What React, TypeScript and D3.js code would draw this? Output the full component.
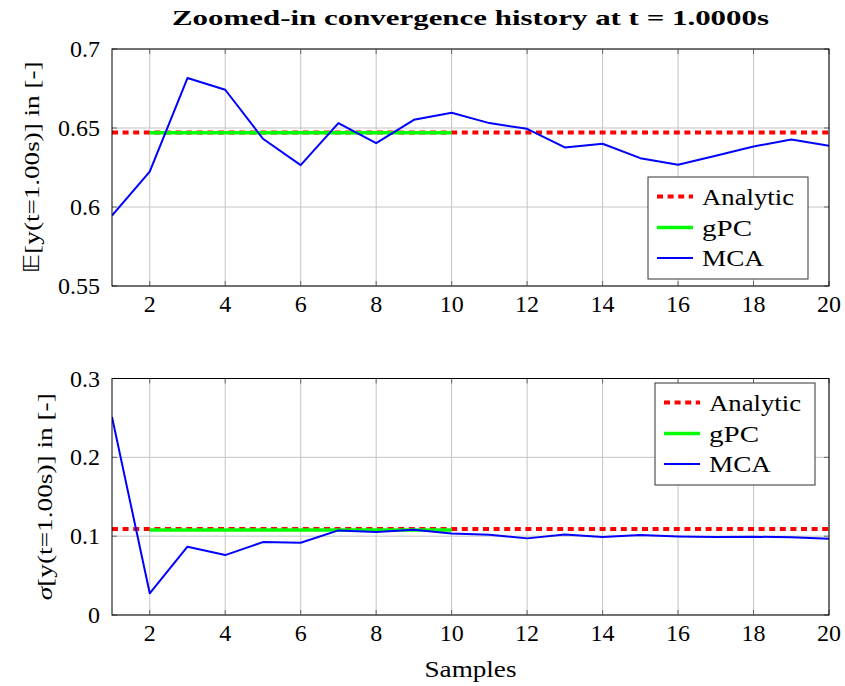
import React from "react";
import * as d3 from "d3";

const samples = [1, 2, 3, 4, 5, 6, 7, 8, 9, 10, 11, 12, 13, 14, 15, 16, 17, 18, 19, 20];
const mcaMean = [0.5946, 0.6224, 0.6816, 0.6742, 0.6432, 0.6265, 0.6531, 0.6404, 0.6552, 0.6596,
  0.6531, 0.6495, 0.6377, 0.64, 0.6309, 0.6267, 0.6324, 0.6383, 0.6427, 0.6387];
const mcaStd = [0.2513, 0.0275, 0.0866, 0.076, 0.0925, 0.0917, 0.1073, 0.1052, 0.1082, 0.1035,
  0.1018, 0.0972, 0.1022, 0.0989, 0.1014, 0.0997, 0.099, 0.0993, 0.0985, 0.0968];
const gpcSamples = [2, 3, 4, 5, 6, 7, 8, 9, 10];
const analyticMean = 0.6472;
const gpcMean = 0.647;
const analyticStd = 0.109;
const gpcStd = 0.1078;
const xTicks = [2, 4, 6, 8, 10, 12, 14, 16, 18, 20];
const meanTicks = [0.55, 0.6, 0.65, 0.7];
const stdTicks = [0, 0.1, 0.2, 0.3];
const legendLabels = ["Analytic", "gPC", "MCA"];

const W = 845, H = 686;
const L = 112, R = 829;
const FONT = "'Liberation Serif', 'Times New Roman', 'DejaVu Serif', serif";
const fs = (size: number): React.CSSProperties => ({ fontFamily: FONT, fontSize: size });

type PanelProps = {
  top: number; bottom: number; domain: [number, number]; ticks: number[]; fmt: (v: number) => string;
  mca: number[]; analytic: number; gpc: number; ylabel: React.ReactNode; ylabelX: number; ylabelLen: number;
  legend: { x: number; y: number; w: number; h: number };
  id: string;
};

function Panel(p: PanelProps) {
  const x = d3.scaleLinear().domain([1, 20]).range([L, R]);
  const y = d3.scaleLinear().domain(p.domain).range([p.bottom, p.top]);
  const line = d3.line<[number, number]>().x(d => x(d[0])).y(d => y(d[1]));
  const mcaPts: [number, number][] = samples.map((s, i) => [s, p.mca[i]]);
  const anPts: [number, number][] = [[1, p.analytic], [20, p.analytic]];
  const gpcPts: [number, number][] = gpcSamples.map(s => [s, p.gpc]);
  const lg = p.legend;
  const rows = [lg.y + 19.5, lg.y + 50.5, lg.y + 81];
  const styles = [
    { stroke: "#ff0000", w: 4, dash: "6,4.6" },
    { stroke: "#00ff00", w: 3.5, dash: "" },
    { stroke: "#0000ff", w: 2, dash: "" },
  ];
  const lens = [92, 50, 62];
  return (
    <g>
      <clipPath id={p.id}><rect x={L} y={p.top} width={R - L} height={p.bottom - p.top} /></clipPath>
      {xTicks.map(t => (
        <g key={"gx" + t}>
          <line x1={x(t)} x2={x(t)} y1={p.top} y2={p.bottom} stroke="#c4c4c4" strokeWidth={1} />
          <line x1={x(t)} x2={x(t)} y1={p.top} y2={p.top + 5} stroke="#666" strokeWidth={1} />
          <line x1={x(t)} x2={x(t)} y1={p.bottom} y2={p.bottom - 5} stroke="#666" strokeWidth={1} />
          <text x={x(t)} y={p.bottom + 26} textAnchor="middle" style={fs(24)}>{t}</text>
        </g>
      ))}
      {p.ticks.map(t => (
        <g key={"gy" + t}>
          <line x1={L} x2={R} y1={y(t)} y2={y(t)} stroke="#c4c4c4" strokeWidth={1} />
          <line x1={L} x2={L + 5} y1={y(t)} y2={y(t)} stroke="#666" strokeWidth={1} />
          <line x1={R} x2={R - 5} y1={y(t)} y2={y(t)} stroke="#666" strokeWidth={1} />
          <text x={100} y={y(t) + 8} textAnchor="end" style={fs(24)}>{p.fmt(t)}</text>
        </g>
      ))}
      <g clipPath={`url(#${p.id})`}>
        <path d={line(anPts) || ""} fill="none" stroke="#ff0000" strokeWidth={4} strokeDasharray="6,4.6" />
        <path d={line(gpcPts) || ""} fill="none" stroke="#00ff00" strokeWidth={3.5} />
        <path d={line(mcaPts) || ""} fill="none" stroke="#0000ff" strokeWidth={2} strokeLinejoin="round" />
      </g>
      <rect x={L} y={p.top} width={R - L} height={p.bottom - p.top} fill="none" stroke="#000" strokeWidth={1} />
      <text transform={`translate(${p.ylabelX},${(p.top + p.bottom) / 2}) rotate(-90)`} textAnchor="middle"
        style={fs(22)} textLength={p.ylabelLen} lengthAdjust="spacingAndGlyphs">{p.ylabel}</text>
      <rect x={lg.x} y={lg.y} width={lg.w} height={lg.h} fill="#fff" stroke="#333" strokeWidth={1} />
      {legendLabels.map((lab, i) => {
        const cy = rows[i];
        const s = styles[i];
        return (
          <g key={lab}>
            <line x1={lg.x + 9} x2={lg.x + 45} y1={cy} y2={cy} stroke={s.stroke} strokeWidth={s.w}
              strokeDasharray={s.dash || undefined} />
            <text x={lg.x + 54} y={cy + 8} style={fs(24)} textLength={lens[i]}
              lengthAdjust="spacingAndGlyphs">{lab}</text>
          </g>
        );
      })}
    </g>
  );
}

export default function App() {
  return (
    <svg width={W} height={H} viewBox={`0 0 ${W} ${H}`}
      style={{ display: "block", position: "absolute", left: 0, top: 0, background: "#fff", fontFamily: FONT }}>
      <rect x={0} y={0} width={W} height={H} fill="#fff" />
      <text x={(L + R) / 2} y={25} textAnchor="middle" style={{ ...fs(21), fontWeight: "bold" }}
        textLength={597} lengthAdjust="spacingAndGlyphs">
        Zoomed-in convergence history at t = 1.0000s
      </text>
      <Panel id="c1" top={49} bottom={286} domain={[0.55, 0.7]} ticks={meanTicks}
        fmt={v => (v === 0.7 ? "0.7" : v === 0.6 ? "0.6" : d3.format(".2f")(v))}
        mca={mcaMean} analytic={analyticMean} gpc={gpcMean}
        ylabel={<><tspan style={{ fontFamily: "'DejaVu Sans', sans-serif" }}>𝔼</tspan>[y(t=1.00s)] in [-]</>}
        ylabelX={39} ylabelLen={212}
        legend={{ x: 648, y: 177, w: 160, h: 102 }} />
      <Panel id="c2" top={378.5} bottom={615} domain={[0, 0.3]} ticks={stdTicks}
        fmt={v => (v === 0 ? "0" : d3.format(".1f")(v))}
        mca={mcaStd} analytic={analyticStd} gpc={gpcStd}
        ylabel={<><tspan style={{ fontStyle: "italic" }}>σ</tspan>[y(t=1.00s)] in [-]</>}
        ylabelX={52} ylabelLen={207}
        legend={{ x: 655, y: 383, w: 160, h: 102 }} />
      <text x={(L + R) / 2} y={677} textAnchor="middle" style={fs(23)} textLength={92}
        lengthAdjust="spacingAndGlyphs">Samples</text>
    </svg>
  );
}
